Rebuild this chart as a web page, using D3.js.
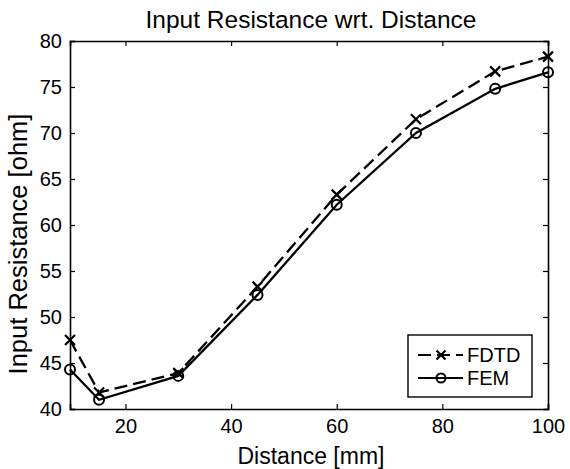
<!DOCTYPE html>
<html>
<head>
<meta charset="utf-8">
<script src="https://cdn.jsdelivr.net/npm/d3@7"></script>
<style>
  body { margin: 0; background: #fff; }
  svg text { font-family: "Liberation Sans", Arial, sans-serif; fill: #000; }
</style>
</head>
<body>
<svg id="chart" width="570" height="469"></svg>
<script>
// distances (mm)
var distance = [9.5, 15, 30, 45, 60, 75, 90, 100];
// input resistance (ohm)
var fdtd = [47.5, 41.8, 43.9, 53.3, 63.3, 71.5, 76.7, 78.3];
var fem  = [44.3, 41.0, 43.6, 52.4, 62.2, 70.0, 74.8, 76.6];
var xTicks = [20, 40, 60, 80, 100];
var yTicks = [40, 45, 50, 55, 60, 65, 70, 75, 80];

var svg = d3.select("#chart");
// plot frame (window.top is taken, so no "top" var here)
var pL = 70, pR = 548, pT = 41, pB = 409;

var x = d3.scaleLinear().domain([9.5, 100]).range([pL, pR]);
var y = d3.scaleLinear().domain([40, 80]).range([pB, pT]);

// axes, matlab style: ticks inside, on all four sides
var tl = 5;
svg.append("g").attr("transform", "translate(0," + pB + ")")
    .call(d3.axisBottom(x).tickValues(xTicks).tickSize(-tl).tickPadding(10));
svg.append("g").attr("transform", "translate(0," + pT + ")")
    .call(d3.axisTop(x).tickValues(xTicks).tickSize(-tl).tickFormat(""));
svg.append("g").attr("transform", "translate(" + pL + ",0)")
    .call(d3.axisLeft(y).tickValues(yTicks).tickSize(-tl).tickPadding(8));
svg.append("g").attr("transform", "translate(" + pR + ",0)")
    .call(d3.axisRight(y).tickValues(yTicks).tickSize(-tl).tickFormat(""));

svg.selectAll(".domain").attr("stroke", "#000").attr("stroke-width", 1.6);
svg.selectAll(".tick line").attr("stroke", "#000").attr("stroke-width", 1.2);
svg.selectAll(".tick text").attr("font-size", 20).style("font-family", "Liberation Sans, Arial, sans-serif");

// texts
svg.append("text").attr("x", 311).attr("y", 28).attr("text-anchor", "middle")
    .attr("font-size", 24.5).text("Input Resistance wrt. Distance");
svg.append("text").attr("x", 311).attr("y", 464).attr("text-anchor", "middle")
    .attr("font-size", 23).text("Distance [mm]");
svg.append("text").attr("transform", "translate(27,244) rotate(-90)").attr("text-anchor", "middle")
    .attr("font-size", 25.5).text("Input Resistance [ohm]");

var line = d3.line().x(function(d){ return x(d[0]); }).y(function(d){ return y(d[1]); });
var fdtdPts = distance.map(function(d, i){ return [d, fdtd[i]]; });
var femPts = distance.map(function(d, i){ return [d, fem[i]]; });

svg.append("path").attr("d", line(fdtdPts)).attr("fill", "none")
    .attr("stroke", "#000").attr("stroke-width", 2.3).attr("stroke-dasharray", "13,6");
svg.append("path").attr("d", line(femPts)).attr("fill", "none")
    .attr("stroke", "#000").attr("stroke-width", 2.3);

function cross(g, cx, cy, s){
    g.append("path").attr("d", "M" + (cx - s) + "," + (cy - s) + "L" + (cx + s) + "," + (cy + s)
        + "M" + (cx - s) + "," + (cy + s) + "L" + (cx + s) + "," + (cy - s))
        .attr("stroke", "#000").attr("stroke-width", 2.2).attr("fill", "none");
}
function circ(g, cx, cy, r){
    g.append("circle").attr("cx", cx).attr("cy", cy).attr("r", r)
        .attr("fill", "none").attr("stroke", "#000").attr("stroke-width", 2);
}
var marks = svg.append("g");
fdtdPts.forEach(function(p){ cross(marks, x(p[0]), y(p[1]), 5); });
femPts.forEach(function(p){ circ(marks, x(p[0]), y(p[1]), 5); });

// legend
var lg = svg.append("g");
lg.append("rect").attr("x", 408).attr("y", 335).attr("width", 124).attr("height", 62)
    .attr("fill", "#fff").attr("stroke", "#000").attr("stroke-width", 1.4);
var items = [{name: "FDTD", dash: "13,6", mk: "x", yy: 355}, {name: "FEM", dash: null, mk: "o", yy: 378}];
items.forEach(function(it){
    lg.append("line").attr("x1", 418).attr("x2", 463).attr("y1", it.yy).attr("y2", it.yy)
        .attr("stroke", "#000").attr("stroke-width", 2.2)
        .attr("stroke-dasharray", it.dash);
    if (it.mk == "x") cross(lg, 441, it.yy, 4.5); else circ(lg, 441, it.yy, 4.5);
    lg.append("text").attr("x", 467).attr("y", it.yy + 7).attr("font-size", 20).text(it.name);
});
</script>
</body>
</html>
